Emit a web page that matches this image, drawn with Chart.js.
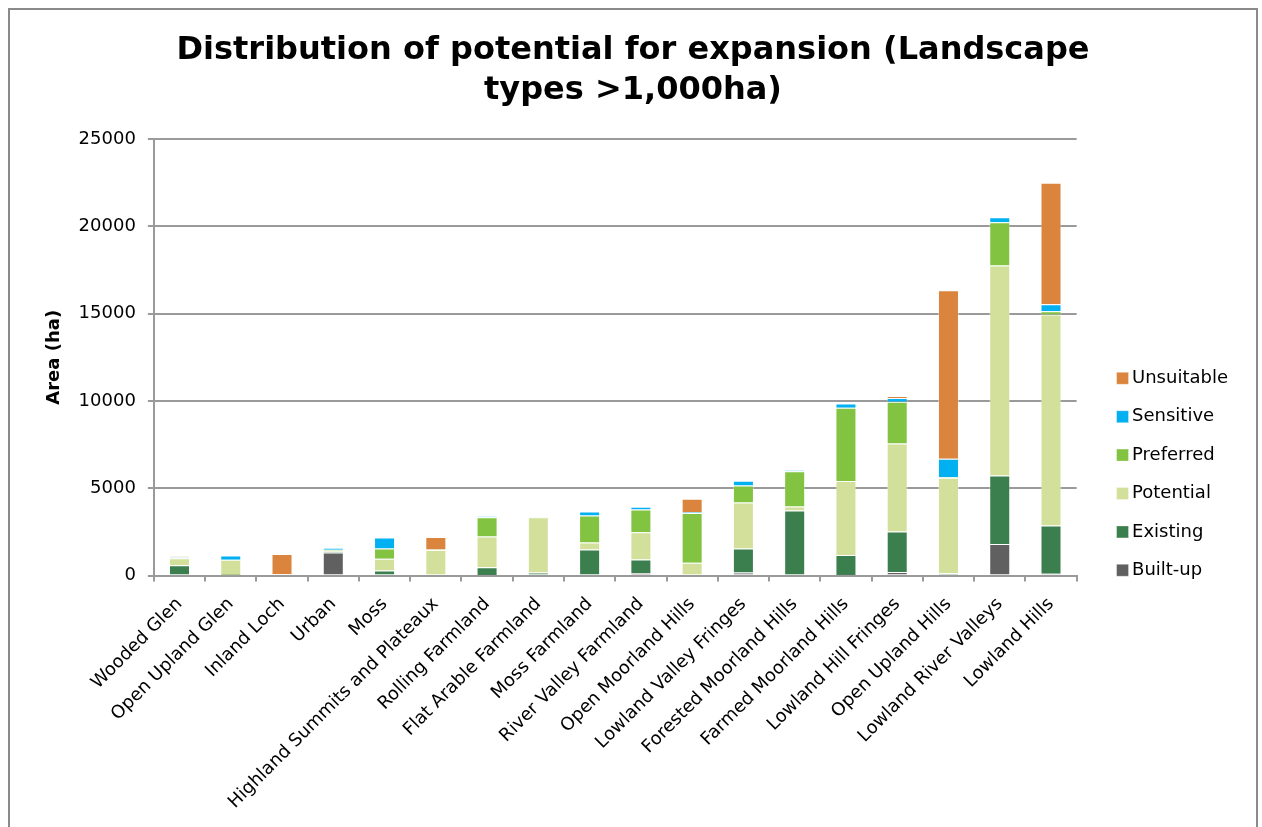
<!DOCTYPE html>
<html>
<head>
<meta charset="utf-8">
<title>Distribution of potential for expansion</title>
<script src="https://cdn.jsdelivr.net/npm/chart.js@4.4.0/dist/chart.umd.min.js"></script>
<style>
    html, body { margin: 0; padding: 0; background: #fff; overflow: hidden; }
    #frame {
        position: absolute; left: 8px; top: 8px;
        width: 1250px; height: 830px;
        box-sizing: border-box;
        border: 2px solid #8a8a8a;
    }
    #wrap { position: absolute; left: 0; top: 0; width: 1262px; height: 827px; }
</style>
</head>
<body>
<div id="frame"></div>
<div id="wrap"><canvas id="chart" width="1262" height="827"></canvas></div>
<script>
// ----------------------------Data----------------------------

const landscapes = [
    'Wooded Glen', 'Open Upland Glen', 'Inland Loch', 'Urban', 'Moss',
    'Highland Summits and Plateaux', 'Rolling Farmland', 'Flat Arable Farmland',
    'Moss Farmland', 'River Valley Farmland', 'Open Moorland Hills',
    'Lowland Valley Fringes', 'Forested Moorland Hills', 'Farmed Moorland Hills',
    'Lowland Hill Fringes', 'Open Upland Hills', 'Lowland River Valleys', 'Lowland Hills'
];

const builtUp    = [0, 0, 0, 1320, 0, 0, 40, 0, 0, 150, 0, 170, 0, 30, 210, 0, 1815, 100];
const existing   = [590, 20, 0, 50, 290, 0, 440, 170, 1490, 770, 60, 1380, 3730, 1150, 2310, 130, 3920, 2770];
const potential  = [400, 880, 0, 60, 670, 1470, 1760, 3170, 400, 1560, 670, 2640, 230, 4240, 5050, 5470, 12020, 12080];
const preferred  = [40, 0, 0, 55, 590, 30, 1100, 30, 1550, 1300, 2860, 970, 2020, 4185, 2390, 30, 2480, 190];
const sensitive  = [50, 250, 75, 115, 630, 0, 50, 10, 230, 160, 30, 270, 50, 245, 205, 1060, 290, 400];
const unsuitable = [20, 0, 1165, 0, 0, 710, 0, 0, 0, 0, 780, 0, 0, 0, 115, 9650, 0, 6955];

const yTicks = { min: 0, max: 25000, step: 5000 };

// ----------------------------Chart----------------------------

const FONT = "'DejaVu Sans', Verdana, sans-serif";
const GRID = '#9a9a9a';

function series(label, data, color) {
    return {
        label: label,
        data: data,
        backgroundColor: color,
        borderColor: 'rgba(255,255,255,0.35)',
        borderWidth: 1,
        barPercentage: 0.41,
        categoryPercentage: 1
    };
}

// move the legend away from the plot, like the Excel original
const legendPlace = {
    id: 'legendPlace',
    afterInit(chart) {
        const fit = chart.legend.fit;
        chart.legend.fit = function () {
            fit.call(this);
            this.width += 33;
        };
    },
    afterLayout(chart) {
        const lg = chart.legend;
        lg.left += 25; lg.right += 25;
        lg.top += 117; lg.bottom += 117;
    }
};

document.addEventListener('DOMContentLoaded', function() {
    const ctx = document.getElementById('chart');

    new Chart(ctx, {
        type: 'bar',
        data: {
            labels: landscapes,
            datasets: [
                series('Built-up', builtUp, '#606060'),
                series('Existing', existing, '#3b7f4f'),
                series('Potential', potential, '#d2e09b'),
                series('Preferred', preferred, '#82c341'),
                series('Sensitive', sensitive, '#00b0f0'),
                series('Unsuitable', unsuitable, '#db843d')
            ]
        },
        options: {
            responsive: false,
            animation: false,
            layout: { padding: { left: 20, right: 16, top: 0, bottom: 2 } },
            plugins: {
                title: {
                    display: true,
                    text: ['Distribution of potential for expansion (Landscape', 'types >1,000ha)'],
                    color: '#000',
                    font: { family: FONT, size: 32, weight: 'bold', lineHeight: 1.25 },
                    padding: { top: 31, bottom: 28 }
                },
                legend: {
                    position: 'right',
                    fullSize: false,
                    reverse: true,
                    labels: {
                        usePointStyle: true,
                        pointStyle: 'rect',
                        boxWidth: 1,
                        boxHeight: 12,
                        padding: 20.4,
                        color: '#000',
                        font: { family: FONT, size: 18 }
                    }
                },
                tooltip: { enabled: false }
            },
            scales: {
                x: {
                    stacked: true,
                    grid: { offset: true, drawOnChartArea: false, color: GRID, lineWidth: 2, tickLength: 6 },
                    border: { color: GRID, width: 2 },
                    ticks: {
                        autoSkip: false,
                        maxRotation: 45,
                        minRotation: 45,
                        padding: 12,
                        color: '#000',
                        font: { family: FONT, size: 18 }
                    }
                },
                y: {
                    stacked: true,
                    min: yTicks.min,
                    max: yTicks.max,
                    grid: { color: GRID, lineWidth: 2, tickLength: 6 },
                    border: { color: GRID, width: 2 },
                    ticks: {
                        stepSize: yTicks.step,
                        padding: 12,
                        color: '#000',
                        font: { family: FONT, size: 18 },
                        callback: v => String(v)
                    },
                    title: {
                        display: true,
                        text: 'Area (ha)',
                        color: '#000',
                        font: { family: FONT, size: 18, weight: 'bold' },
                        padding: { top: 24, bottom: 1 }
                    }
                }
            }
        },
        plugins: [legendPlace]
    });
});
</script>
</body>
</html>
